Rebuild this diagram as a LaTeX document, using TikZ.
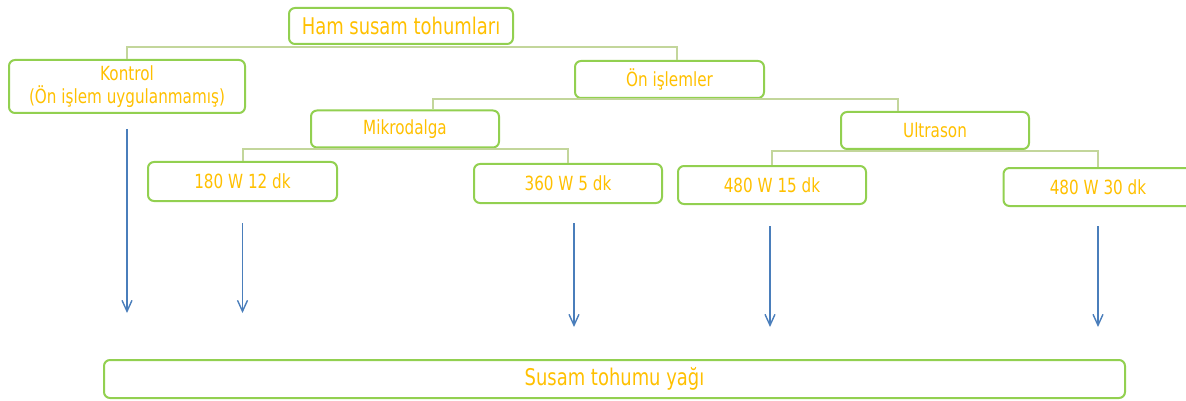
\documentclass[tikz,border=0pt]{standalone}
\usepackage{fontspec}
\setmainfont{DejaVu Sans}[FakeStretch=0.78]
\usetikzlibrary{arrows.meta}
\definecolor{boxgreen}{HTML}{92D050}
\definecolor{linegreen}{HTML}{C3D69B}
\definecolor{txtamber}{HTML}{FFC000}
\definecolor{arrowblue}{HTML}{4A7EBB}
\begin{document}
\begin{tikzpicture}[x=1pt,y=-1pt,
  box/.style={draw=boxgreen, line width=2pt, rounded corners=6pt, text=txtamber,
    font=\fontsize{19.5}{23}\selectfont, inner sep=0pt, align=center},
  bigtext/.style={font=\fontsize{23}{26}\selectfont},
  link/.style={draw=linegreen, line width=2pt},
  flow/.style={draw=arrowblue, line width=1.4pt, -{Straight Barb[length=11pt,width=10pt,line width=1.4pt]}}]
\useasboundingbox (0,0) rectangle (1186,401);
\node[box, bigtext, minimum width=224pt, minimum height=36pt] (ham) at (401,26) {Ham susam tohumları};
\node[box, minimum width=236pt, minimum height=53pt] (kontrol) at (127,86.5) {Kontrol\\(Ön işlem uygulanmamış)};
\node[box, minimum width=189pt, minimum height=37pt] (onis) at (669.5,79.5) {Ön işlemler};
\node[box, minimum width=188pt, minimum height=37pt] (mikro) at (405,129) {Mikrodalga};
\node[box, minimum width=188pt, minimum height=37pt] (ultra) at (935,130.5) {Ultrason};
\node[box, minimum width=189pt, minimum height=39pt] (m1) at (242.5,181.5) {180 W 12 dk};
\node[box, minimum width=188pt, minimum height=39pt] (m2) at (568,183.5) {360 W 5 dk};
\node[box, minimum width=188pt, minimum height=38pt] (u1) at (772,185) {480 W 15 dk};
\node[box, minimum width=189pt, minimum height=38pt] (u2) at (1098,187) {480 W 30 dk};
\node[box, bigtext, minimum width=1021pt, minimum height=38pt] (yag) at (614.5,379) {Susam tohumu yağı};
% tree connectors
\draw[link] (kontrol.north) |- ([yshift=-2pt]ham.south) -| ([xshift=7pt]onis.north);
\draw[link] ([xshift=28pt]mikro.north) |- (onis.south) -| ([xshift=-37pt]ultra.north);
\draw[link] (m1.north) |- ([yshift=-1pt]mikro.south) -| (m2.north);
\draw[link] (u1.north) |- ([yshift=-1pt]ultra.south) -| (u2.north);
% flow arrows
\draw[flow] ([yshift=-15pt]kontrol.south) -- ([yshift=46pt]kontrol.south |- yag.north);
\draw[flow] ([yshift=-21pt]m1.south) -- ([yshift=46pt]m1.south |- yag.north);
\draw[flow] ([xshift=6pt,yshift=-19pt]m2.south) -- ([xshift=6pt,yshift=32pt]m2.south |- yag.north);
\draw[flow] ([xshift=-2pt,yshift=-21pt]u1.south) -- ([xshift=-2pt,yshift=32pt]u1.south |- yag.north);
\draw[flow] ([yshift=-19pt]u2.south) -- ([yshift=32pt]u2.south |- yag.north);
\end{tikzpicture}
\end{document}
